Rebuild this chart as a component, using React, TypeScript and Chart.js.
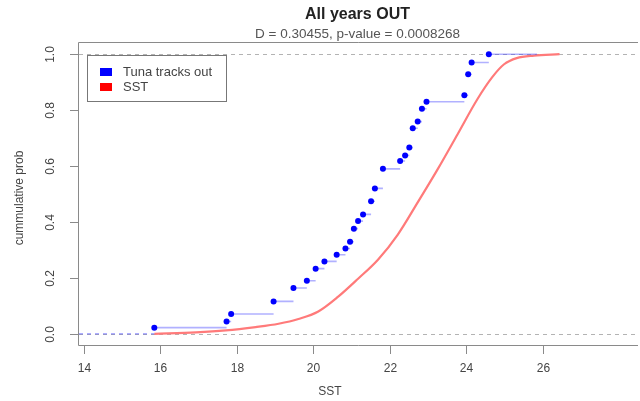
import React, { useEffect, useRef } from "react";
import { Chart, registerables } from "chart.js";

Chart.register(...registerables);

// ---- data ----
const chartTitle = "All years OUT";
const chartSubtitle = "D = 0.30455, p-value = 0.0008268";
const xAxisTitle = "SST";
const yAxisTitle = "cummulative prob";

const xTickValues = [14, 16, 18, 20, 22, 24, 26];
const xTickLabels = ["14", "16", "18", "20", "22", "24", "26"];
const yTickValues = [0, 0.2, 0.4, 0.6, 0.8, 1.0];
const yTickLabels = ["0.0", "0.2", "0.4", "0.6", "0.8", "1.0"];

const xMin = 13.87;
const xMax = 28.44;
const yMin = -0.04;
const yMax = 1.04;

// Tuna tracks out: ECDF jump points
const tunaSST = [
  15.84, 17.73, 17.85, 18.96, 19.48, 19.83, 20.06, 20.29, 20.61, 20.84,
  20.96, 21.06, 21.17, 21.3, 21.51, 21.61, 21.82, 22.27, 22.4, 22.51,
  22.6, 22.73, 22.84, 22.96, 23.95, 24.05, 24.14, 24.59,
];
const tunaProb = [
  0.022, 0.044, 0.071, 0.116, 0.164, 0.19, 0.233, 0.259, 0.283, 0.305,
  0.329, 0.376, 0.403, 0.427, 0.474, 0.52, 0.59, 0.618, 0.638, 0.666,
  0.735, 0.759, 0.805, 0.83, 0.853, 0.928, 0.97, 1.0,
];
const tunaRightEnd = 25.85;

// SST cumulative distribution curve
const sstX = [
  15.84, 16.93, 17.71, 18.49, 19.09, 19.61, 20.13, 20.65, 21.17, 21.69,
  22.21, 22.73, 23.25, 23.77, 24.29, 24.68, 24.99, 25.32, 25.77, 26.44,
];
const sstProb = [
  0.0, 0.005, 0.012, 0.024, 0.036, 0.053, 0.08, 0.133, 0.197, 0.265,
  0.355, 0.47, 0.588, 0.713, 0.839, 0.918, 0.964, 0.986, 0.995, 1.0,
];

const legendLabels = ["Tuna tracks out", "SST"];
const legendColors = ["#0000ff", "#ff0000"];

const FONT = '"Liberation Sans", Arial, sans-serif';

const rPlugin = {
  id: "rstyle",
  beforeDatasetsDraw(chart: any) {
    const ctx = chart.ctx;
    const { left, right } = chart.chartArea;
    const ys = chart.scales.y;
    ctx.save();
    ctx.strokeStyle = "#b3b3b3";
    ctx.lineWidth = 1;
    ctx.setLineDash([4, 4]);
    for (const v of [0, 1]) {
      const py = Math.round(ys.getPixelForValue(v)) + 0.5;
      ctx.beginPath();
      ctx.moveTo(left, py);
      ctx.lineTo(right, py);
      ctx.stroke();
    }
    ctx.restore();
  },
  afterDraw(chart: any) {
    const ctx = chart.ctx;
    const { left, right, top, bottom } = chart.chartArea;
    const xs = chart.scales.x;
    const ys = chart.scales.y;
    ctx.save();
    // box (right side is off-canvas in the reference)
    ctx.strokeStyle = "#8a8a8a";
    ctx.lineWidth = 1;
    ctx.beginPath();
    ctx.moveTo(right + 2, top - 0.5);
    ctx.lineTo(left - 0.5, top - 0.5);
    ctx.lineTo(left - 0.5, bottom + 0.5);
    ctx.lineTo(right + 2, bottom + 0.5);
    ctx.stroke();

    // x ticks
    ctx.fillStyle = "#444";
    ctx.font = `12px ${FONT}`;
    ctx.textAlign = "center";
    ctx.textBaseline = "middle";
    xTickValues.forEach((v, i) => {
      const px = Math.round(xs.getPixelForValue(v)) + 0.5;
      ctx.beginPath();
      ctx.moveTo(px, bottom + 0.5);
      ctx.lineTo(px, bottom + 9);
      ctx.stroke();
      ctx.fillText(xTickLabels[i], px, 369);
    });
    // y ticks
    yTickValues.forEach((v, i) => {
      const py = Math.round(ys.getPixelForValue(v)) + 0.5;
      ctx.beginPath();
      ctx.moveTo(left - 0.5, py);
      ctx.lineTo(left - 9, py);
      ctx.stroke();
      ctx.save();
      ctx.translate(51, py);
      ctx.rotate(-Math.PI / 2);
      ctx.fillText(yTickLabels[i], 0, 0);
      ctx.restore();
    });
    // axis titles
    ctx.fillText(xAxisTitle, 330, 392);
    ctx.save();
    ctx.translate(20, 198);
    ctx.rotate(-Math.PI / 2);
    ctx.fillText(yAxisTitle, 0, 0);
    ctx.restore();

    // titles
    const cx = (left + right) / 2;
    ctx.fillStyle = "#222";
    ctx.font = `bold 16px ${FONT}`;
    ctx.fillText(chartTitle, cx, 15);
    ctx.fillStyle = "#555";
    ctx.font = `13.5px ${FONT}`;
    ctx.fillText(chartSubtitle, cx, 34);

    // legend
    ctx.strokeStyle = "#777";
    ctx.strokeRect(87.5, 55.5, 139, 46);
    ctx.font = `13px ${FONT}`;
    ctx.textAlign = "left";
    legendLabels.forEach((lab, i) => {
      const yy = 72 + i * 15;
      ctx.fillStyle = legendColors[i];
      ctx.fillRect(100, yy - 4, 12, 8);
      ctx.fillStyle = "#444";
      ctx.fillText(lab, 123, yy);
    });
    ctx.restore();
  },
};

export default function App() {
  const canvasRef = useRef<HTMLCanvasElement | null>(null);

  useEffect(() => {
    if (!canvasRef.current) return;
    const points = tunaSST.map((x, i) => ({ x, y: tunaProb[i] }));
    const steps: any[] = [];
    tunaSST.forEach((x, i) => {
      const next = i < tunaSST.length - 1 ? tunaSST[i + 1] : tunaRightEnd;
      steps.push({ x, y: tunaProb[i] });
      steps.push({ x: next, y: tunaProb[i] });
      steps.push({ x: next, y: null });
    });
    const ext = [
      { x: xMin, y: 0 },
      { x: tunaSST[0], y: 0 },
    ];
    const curve = sstX.map((x, i) => ({ x, y: sstProb[i] }));

    const chart = new Chart(canvasRef.current, {
      type: "scatter",
      data: {
        datasets: [
          {
            label: legendLabels[0],
            data: points,
            showLine: false,
            pointRadius: 3.0,
            pointBorderWidth: 0,
            backgroundColor: "#0000ff",
            borderColor: "#0000ff",
          },
          {
            label: "steps",
            type: "line",
            data: steps,
            showLine: true,
            spanGaps: false,
            pointRadius: 0,
            borderColor: "rgba(70,70,255,0.42)",
            borderWidth: 1.6,
          } as any,
          {
            label: "ext",
            type: "line",
            data: ext,
            showLine: true,
            pointRadius: 0,
            borderColor: "rgba(70,70,255,0.45)",
            borderWidth: 1.6,
            borderDash: [4, 4],
          } as any,
          {
            label: legendLabels[1],
            type: "line",
            data: curve,
            showLine: true,
            pointRadius: 0,
            borderColor: "#ff7a7a",
            borderWidth: 2.2,
            cubicInterpolationMode: "monotone",
          } as any,
        ],
      },
      options: {
        responsive: false,
        animation: false,
        layout: { padding: { left: 79, top: 43, right: 0, bottom: 56 } },
        scales: {
          x: { type: "linear", min: xMin, max: xMax, display: false },
          y: { type: "linear", min: yMin, max: yMax, display: false },
        },
        plugins: {
          legend: { display: false },
          tooltip: { enabled: false },
        },
      },
      plugins: [rPlugin],
    });
    return () => chart.destroy();
  }, []);

  return (
    <div
      style={{
        position: "fixed",
        left: 0,
        top: 0,
        width: 640,
        height: 401,
        background: "#fff",
        overflow: "hidden",
      }}
    >
      <canvas
        ref={canvasRef}
        width={640}
        height={401}
        style={{ display: "block", width: 640, height: 401, filter: "blur(0.45px)" }}
      />
    </div>
  );
}
